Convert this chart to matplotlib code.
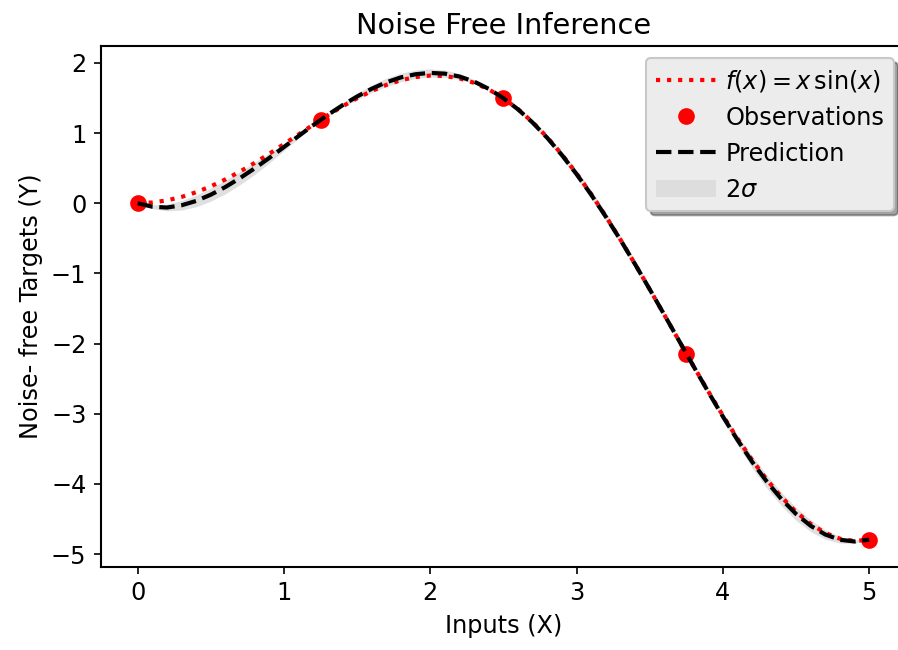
import numpy as np
import matplotlib
matplotlib.use("Agg")
import matplotlib.pyplot as plt

# -------------------------
# Values
# -------------------------
x_grid = [round(0.1 * i, 1) for i in range(51)]

f_true = [0.000, 0.010, 0.040, 0.089, 0.156, 0.240, 0.339, 0.451, 0.574, 0.705,
          0.842, 0.980, 1.118, 1.253, 1.380, 1.496, 1.599, 1.686, 1.753, 1.798,
          1.819, 1.813, 1.779, 1.715, 1.621, 1.496, 1.340, 1.154, 0.938, 0.694,
          0.423, 0.129, -0.187, -0.520, -0.869, -1.228, -1.593, -1.960, -2.325, -2.682,
          -3.027, -3.355, -3.661, -3.940, -4.187, -4.399, -4.571, -4.700, -4.782, -4.814,
          -4.795]

pred = [0.000, -0.050, -0.062, -0.030, 0.032, 0.121, 0.231, 0.358, 0.497, 0.645,
        0.800, 0.957, 1.112, 1.259, 1.396, 1.521, 1.631, 1.723, 1.793, 1.838,
        1.857, 1.846, 1.805, 1.733, 1.629, 1.496, 1.337, 1.148, 0.930, 0.685,
        0.414, 0.121, -0.193, -0.524, -0.871, -1.228, -1.592, -1.959, -2.327, -2.690,
        -3.041, -3.375, -3.686, -3.968, -4.217, -4.429, -4.598, -4.722, -4.797, -4.821,
        -4.795]

# half width of the 2 sigma band
band = [0.000, 0.025, 0.048, 0.068, 0.083, 0.092, 0.096, 0.094, 0.086, 0.072,
        0.052, 0.030, 0.010, 0.011, 0.030, 0.044, 0.054, 0.059, 0.060, 0.060,
        0.058, 0.052, 0.042, 0.029, 0.013, 0.000, 0.013, 0.029, 0.042, 0.052,
        0.058, 0.060, 0.060, 0.059, 0.054, 0.044, 0.030, 0.011, 0.010, 0.030,
        0.052, 0.072, 0.086, 0.094, 0.096, 0.092, 0.083, 0.068, 0.048, 0.025,
        0.000]

obs_x = [0.0, 1.25, 2.5, 3.75, 5.0]
obs_y = [0.0, 1.186, 1.496, -2.144, -4.795]

# -------------------------
# Plot
# -------------------------
plt.rcParams['font.family'] = ['DejaVu Sans']
plt.rcParams['font.size'] = 11.5
plt.rcParams['axes.linewidth'] = 1.0

fig = plt.figure(figsize=(898 / 150, 650 / 150), dpi=150)
ax = fig.add_axes([0.1125, 0.1282, 0.8962, 0.801])

xg = np.array(x_grid)
mu = np.array(pred)
hw = np.array(band)

ax.plot(xg, f_true, 'r:', lw=2.0, label=r'$f(x) = x\,\sin(x)$')
ax.plot(obs_x, obs_y, 'o', color='red', ms=7, label='Observations')
ax.plot(xg, mu, 'k--', lw=2.0, label='Prediction')
ax.fill_between(xg, mu - hw, mu + hw, color='#dcdcdc', alpha=0.9, lw=0, label=r'$2\sigma$')

ax.set_xlim(-0.25, 5.25)
ax.set_ylim(-5.18, 2.24)
ax.set_xticks([0, 1, 2, 3, 4, 5])
ax.set_yticks([-5, -4, -3, -2, -1, 0, 1, 2])

ax.set_title('Noise Free Inference', fontsize=13.8)
ax.set_xlabel('Inputs (X)')
ax.set_ylabel('Noise- free Targets (Y)')

leg = ax.legend(loc='upper right', fontsize=11.5, shadow=True, fancybox=True,
                facecolor='#ececec', edgecolor='#c8c8c8', framealpha=1,
                handlelength=2.5, handletextpad=0.4, labelspacing=0.5)

fig.savefig('out.png', dpi=150)
